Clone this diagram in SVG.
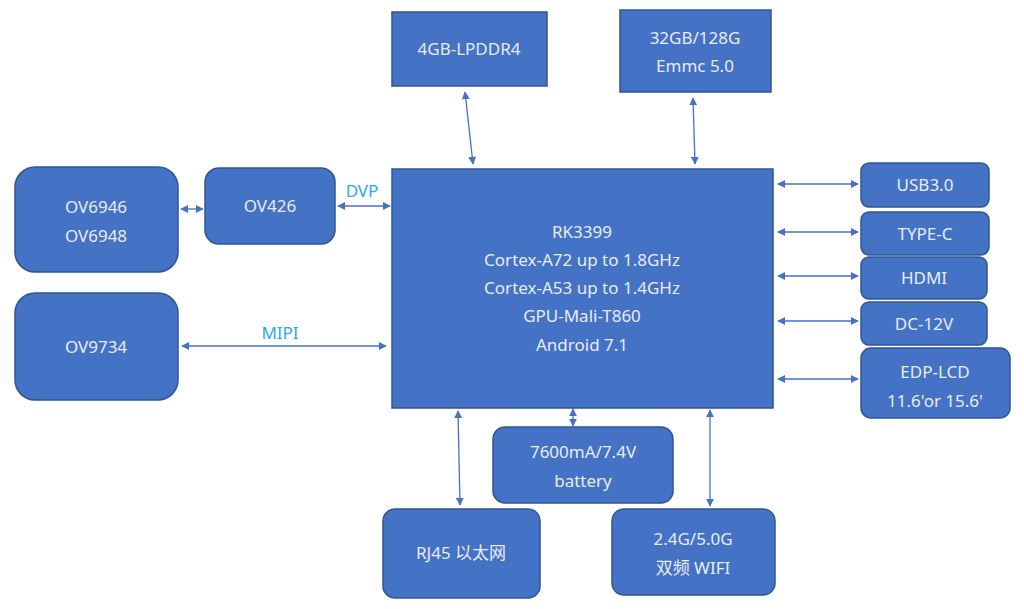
<svg xmlns="http://www.w3.org/2000/svg" width="1024" height="609" viewBox="0 0 1024 609">
<defs>
<marker id="a" viewBox="0 0 10 10" refX="9" refY="5" markerWidth="8" markerHeight="8" orient="auto-start-reverse" markerUnits="userSpaceOnUse"><path d="M0,0 L10,5 L0,10 z" fill="#4472C4"/></marker>
<style>
.n{fill:#4472C4;stroke:#2F5597;stroke-width:1.5}
.t{font-family:"Noto Sans","Noto Sans CJK SC",sans-serif;font-size:17px;fill:#E8ECF8;text-anchor:middle}
.l{font-family:"Noto Sans",sans-serif;font-size:17px;fill:#2EA8F0;text-anchor:middle}
.c{stroke:#4472C4;stroke-width:1.3;fill:none;marker-start:url(#a);marker-end:url(#a)}
</style>
</defs>
<rect width="1024" height="609" fill="#fff"/>
<g id="lpddr"><rect class="n" x="392" y="12" width="155" height="74"/><text class="t" x="469" y="55">4GB-LPDDR4</text></g>
<g id="emmc"><rect class="n" x="620" y="10" width="151" height="82"/><text class="t" x="695" y="44">32GB/128G</text><text class="t" x="695" y="72">Emmc 5.0</text></g>
<g id="rk"><rect class="n" x="392" y="169" width="381" height="239"/>
<text class="t" x="582" y="238">RK3399</text><text class="t" x="582" y="266">Cortex-A72 up to 1.8GHz</text><text class="t" x="582" y="294">Cortex-A53 up to 1.4GHz</text><text class="t" x="582" y="322">GPU-Mali-T860</text><text class="t" x="582" y="351">Android 7.1</text></g>
<g id="ov6946"><rect class="n" x="15" y="167" width="163" height="105" rx="20"/><text class="t" x="96" y="213">OV6946</text><text class="t" x="96" y="242">OV6948</text></g>
<g id="ov426"><rect class="n" x="205" y="168" width="130" height="76" rx="14"/><text class="t" x="270" y="212">OV426</text></g>
<g id="ov9734"><rect class="n" x="15" y="293" width="163" height="107" rx="20"/><text class="t" x="96" y="353">OV9734</text></g>
<g id="usb"><rect class="n" x="861" y="163" width="128" height="44" rx="8"/><text class="t" x="925" y="191">USB3.0</text></g>
<g id="typec"><rect class="n" x="861" y="212" width="128" height="43" rx="8"/><text class="t" x="925" y="240">TYPE-C</text></g>
<g id="hdmi"><rect class="n" x="861" y="257" width="126" height="42" rx="8"/><text class="t" x="924" y="284">HDMI</text></g>
<g id="dc"><rect class="n" x="861" y="302" width="126" height="43" rx="8"/><text class="t" x="924" y="330">DC-12V</text></g>
<g id="edp"><rect class="n" x="861" y="348" width="149" height="70" rx="10"/><text class="t" x="935" y="378">EDP-LCD</text><text class="t" x="935" y="407">11.6'or 15.6'</text></g>
<g id="battery"><rect class="n" x="493" y="427" width="180" height="76" rx="12"/><text class="t" x="583" y="458">7600mA/7.4V</text><text class="t" x="583" y="487">battery</text></g>
<g id="rj45"><rect class="n" x="383" y="509" width="157" height="89" rx="12"/><text class="t" x="461" y="559">RJ45 以太网</text></g>
<g id="wifi"><rect class="n" x="612" y="509" width="163" height="86" rx="12"/><text class="t" x="693" y="545">2.4G/5.0G</text><text class="t" x="693" y="574">双频 WIFI</text></g>
<g id="connectors">
<line class="c" x1="465" y1="92" x2="473" y2="164"/>
<line class="c" x1="693" y1="98" x2="695" y2="164"/>
<line class="c" x1="338" y1="206" x2="390" y2="206"/>
<line class="c" x1="181" y1="209" x2="203" y2="209"/>
<line class="c" x1="182" y1="346" x2="386" y2="346"/>
<line class="c" x1="778" y1="184" x2="858" y2="184"/>
<line class="c" x1="778" y1="232" x2="858" y2="232"/>
<line class="c" x1="778" y1="276" x2="858" y2="276"/>
<line class="c" x1="778" y1="321" x2="858" y2="321"/>
<line class="c" x1="778" y1="379" x2="858" y2="379"/>
<line class="c" x1="458" y1="411" x2="460" y2="505"/>
<line class="c" x1="573" y1="409" x2="573" y2="426"/>
<line class="c" x1="710" y1="410" x2="710" y2="506"/>
<text class="l" x="362" y="197">DVP</text>
<text class="l" x="280" y="339">MIPI</text>
</g>
</svg>
